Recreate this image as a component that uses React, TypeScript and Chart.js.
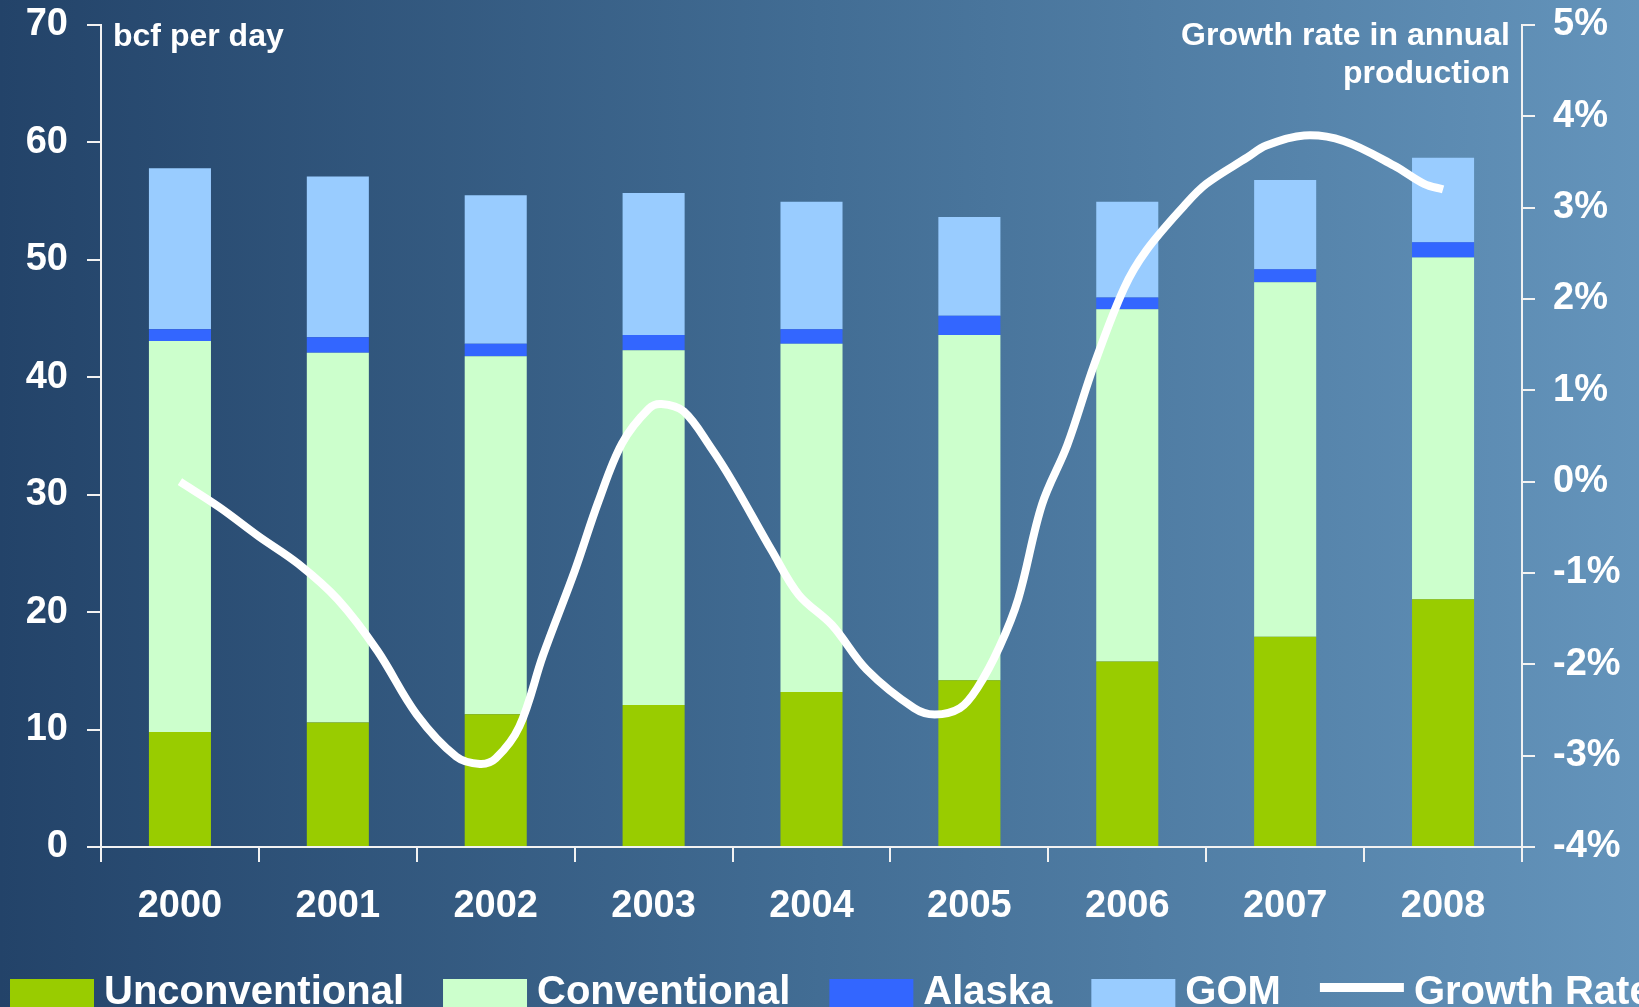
import React, { useEffect, useRef } from "react";
import { Chart, registerables } from "chart.js";

Chart.register(...registerables);

// ---- Data ----
const years = ["2000", "2001", "2002", "2003", "2004", "2005", "2006", "2007", "2008"];
const unconventional = [9.8, 10.6, 11.3, 12.1, 13.2, 14.2, 15.8, 17.9, 21.1];
const conventional = [33.3, 31.5, 30.5, 30.2, 29.65, 29.4, 30.0, 30.2, 29.1];
const alaska = [1.0, 1.3, 1.05, 1.3, 1.25, 1.65, 1.0, 1.1, 1.3];
const gom = [13.7, 13.7, 12.65, 12.1, 10.85, 8.4, 8.15, 7.6, 7.2];

// Growth rate curve (year position, % growth)
const growthYears = [
  2000.0, 2000.25, 2000.5, 2000.75, 2001.0, 2001.25, 2001.5, 2001.75, 2001.9, 2002.0,
  2002.15, 2002.3, 2002.5, 2002.65, 2002.8, 2002.97, 2003.05, 2003.19, 2003.36, 2003.5,
  2003.75, 2003.92, 2004.13, 2004.35, 2004.65, 2004.78, 2004.94, 2005.05, 2005.19, 2005.31,
  2005.46, 2005.62, 2005.79, 2005.98, 2006.12, 2006.36, 2006.5, 2006.76, 2006.88, 2007.12,
  2007.37, 2007.69, 2007.88, 2008.0,
];
const growthRates = [
  0.0, -0.28, -0.6, -0.9, -1.29, -1.85, -2.55, -3.01, -3.09, -3.03,
  -2.68, -1.9, -0.98, -0.22, 0.42, 0.8, 0.85, 0.77, 0.38, 0.0,
  -0.76, -1.24, -1.57, -2.06, -2.48, -2.55, -2.48, -2.26, -1.81, -1.28,
  -0.25, 0.4, 1.28, 2.12, 2.53, 3.02, 3.26, 3.55, 3.68, 3.79,
  3.73, 3.46, 3.26, 3.2,
];

const leftAxisTitle = "bcf per day";
const rightAxisTitle = ["Growth rate in annual", "production"];

const FONT = '"Liberation Sans", Arial, Helvetica, sans-serif';
const AXIS_COLOR = "#f2f2f2";

const overlayPlugin = {
  id: "overlayText",
  afterDraw(chart: any) {
    const ctx = chart.ctx;
    ctx.save();
    ctx.fillStyle = "#ffffff";
    ctx.textBaseline = "alphabetic";
    ctx.font = `bold 32px ${FONT}`;
    ctx.textAlign = "left";
    ctx.fillText(leftAxisTitle, 113, 46);
    ctx.textAlign = "right";
    ctx.fillText(rightAxisTitle[0], 1510, 45);
    ctx.fillText(rightAxisTitle[1], 1510, 83);

    // custom legend
    ctx.font = `bold 40px ${FONT}`;
    ctx.textAlign = "left";
    let x = 10;
    const ds = chart.data.datasets;
    ds.forEach((d: any) => {
      ctx.fillStyle = d.type === "line" ? d.borderColor : d.backgroundColor;
      if (d.type === "line") {
        ctx.fillRect(x, 983, 84, 9);
      } else {
        ctx.fillRect(x, 979, 84, 30);
      }
      ctx.fillStyle = "#ffffff";
      ctx.fillText(d.label, x + 94, 1004);
      x += 94 + ctx.measureText(d.label).width + 39;
    });
    ctx.restore();
  },
};

export default function App() {
  const canvasRef = useRef<HTMLCanvasElement | null>(null);

  useEffect(() => {
    document.body.style.margin = "0";
    const canvas = canvasRef.current;
    if (!canvas) return;

    const tickFont = { family: FONT, size: 38, weight: "bold" as const };
    const barCommon = {
      xAxisID: "x",
      yAxisID: "y",
      barPercentage: 0.393,
      categoryPercentage: 1.0,
      borderWidth: 0,
      grouped: false,
      stack: "prod",
    };
    const noPad = (s: any) => {
      s.paddingTop = 0;
      s.paddingBottom = 0;
    };

    const chart = new Chart(canvas, {
      type: "bar",
      data: {
        labels: years,
        datasets: [
          { label: "Unconventional", data: unconventional, backgroundColor: "#99CC00", ...barCommon },
          { label: "Conventional", data: conventional, backgroundColor: "#CCFFCC", ...barCommon },
          { label: "Alaska", data: alaska, backgroundColor: "#3366FF", ...barCommon },
          { label: "GOM", data: gom, backgroundColor: "#99CCFF", ...barCommon },
          {
            type: "line",
            label: "Growth Rate",
            data: growthYears.map((yr, i) => ({ x: yr, y: growthRates[i] })),
            xAxisID: "xl",
            yAxisID: "y2",
            borderColor: "#ffffff",
            backgroundColor: "#ffffff",
            borderWidth: 8,
            pointRadius: 0,
            tension: 0.35,
            borderCapStyle: "butt",
            borderJoinStyle: "round",
            fill: false,
            order: -1,
          } as any,
        ],
      },
      options: {
        responsive: false,
        animation: false,
        events: [],
        layout: { autoPadding: false, padding: { top: 25, left: 0, right: 0, bottom: 0 } },
        plugins: {
          legend: { display: false },
          tooltip: { enabled: false },
        },
        scales: {
          x: {
            type: "category",
            stacked: true,
            offset: true,
            grid: {
              display: true,
              drawOnChartArea: false,
              drawTicks: true,
              tickLength: 15,
              color: AXIS_COLOR,
              lineWidth: 2,
              offset: true,
            },
            border: { display: true, color: AXIS_COLOR, width: 2 },
            ticks: {
              color: "#ffffff",
              font: tickFont,
              padding: 22,
              maxRotation: 0,
              autoSkip: false,
            },
            afterFit: (s: any) => {
              s.height = 160;
              s.paddingLeft = 0;
              s.paddingRight = 0;
            },
          },
          xl: {
            type: "linear",
            display: false,
            min: 1999.5,
            max: 2008.5,
            offset: false,
          },
          y: {
            type: "linear",
            position: "left",
            stacked: true,
            min: 0,
            max: 70,
            grid: {
              display: true,
              drawOnChartArea: false,
              drawTicks: true,
              tickLength: 14,
              color: AXIS_COLOR,
              lineWidth: 2,
            },
            border: { display: true, color: AXIS_COLOR, width: 2 },
            ticks: {
              stepSize: 10,
              color: "#ffffff",
              font: tickFont,
              padding: 19,
            },
            afterFit: (s: any) => {
              s.width = 101;
              noPad(s);
            },
          },
          y2: {
            type: "linear",
            position: "right",
            min: -4,
            max: 5,
            grid: {
              display: true,
              drawOnChartArea: false,
              drawTicks: true,
              tickLength: 13,
              color: AXIS_COLOR,
              lineWidth: 2,
            },
            border: { display: true, color: AXIS_COLOR, width: 2 },
            ticks: {
              stepSize: 1,
              color: "#ffffff",
              font: tickFont,
              padding: 18,
              callback: (v: any) => `${v}%`,
            },
            afterFit: (s: any) => {
              s.width = 117;
              noPad(s);
            },
          },
        },
      } as any,
      plugins: [overlayPlugin],
    });

    return () => {
      chart.destroy();
    };
  }, []);

  return (
    <div
      style={{
        position: "absolute",
        left: 0,
        top: 0,
        width: 1639,
        height: 1007,
        overflow: "hidden",
        background: "linear-gradient(to right, #234369 0%, #426d94 50%, #6494bb 100%)",
      }}
    >
      <canvas ref={canvasRef} width={1639} height={1007} style={{ display: "block" }} />
    </div>
  );
}
